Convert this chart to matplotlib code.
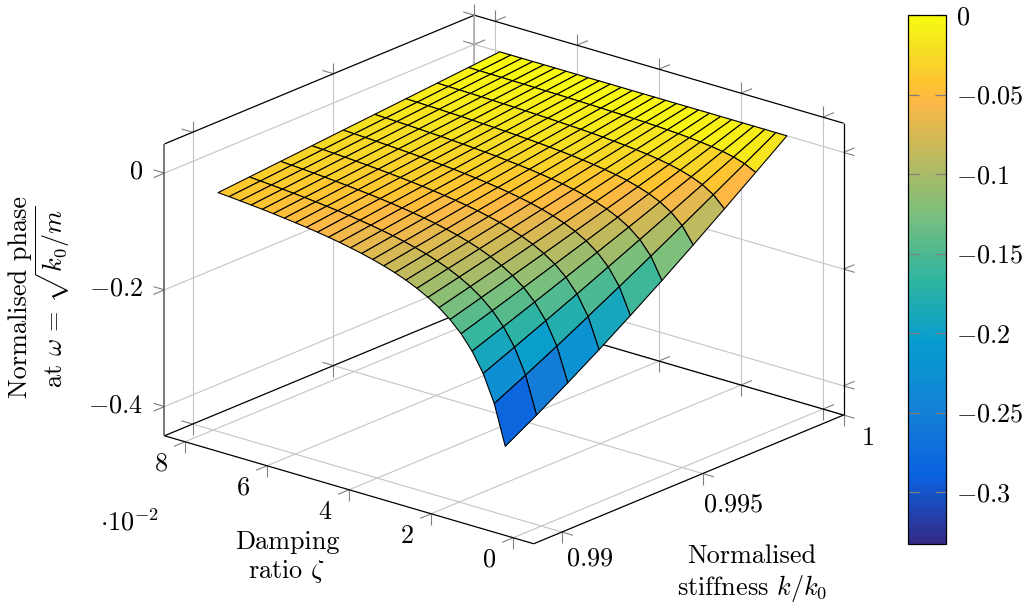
import numpy as np
import matplotlib
matplotlib.use("Agg")
import matplotlib.pyplot as plt
from matplotlib.colors import LinearSegmentedColormap, Normalize
from matplotlib.cm import ScalarMappable
from mpl_toolkits.mplot3d import proj3d

plt.rcParams["font.family"] = "cmr10"
plt.rcParams["mathtext.fontset"] = "cm"
plt.rcParams["axes.unicode_minus"] = False

# Grid of the surface
stiffness = [0.99, 0.99111, 0.99222, 0.99333, 0.99444, 0.99556, 0.99667, 0.99778, 0.99889, 1.0]
damping = [0.88, 1.149, 1.418, 1.688, 1.957, 2.226, 2.495, 2.764, 3.034, 3.303, 3.572, 3.841, 4.11, 4.38,
           4.649, 4.918, 5.187, 5.456, 5.726, 5.995, 6.264, 6.533, 6.802, 7.072, 7.341, 7.61, 7.88]

# one row per damping value, stiffness 0.99 -> 1
phase = [
    [-.3315, -.3003, -.2672, -.2326, -.1965, -.1590, -.1203, -.0807, -.0405, 0],
    [-.2636, -.2371, -.2098, -.1814, -.1525, -.1228, -.0926, -.0620, -.0311, 0],
    [-.2178, -.1951, -.1720, -.1484, -.1243, -.0999, -.0752, -.0502, -.0252, 0],
    [-.1851, -.1654, -.1455, -.1253, -.1048, -.0841, -.0633, -.0423, -.0211, 0],
    [-.1607, -.1436, -.1261, -.1084, -.0907, -.0727, -.0546, -.0365, -.0183, 0],
    [-.1420, -.1266, -.1112, -.0956, -.0798, -.0640, -.0481, -.0321, -.0160, 0],
    [-.1271, -.1133, -.0994, -.0854, -.0712, -.0571, -.0428, -.0286, -.0143, 0],
    [-.1150, -.1025, -.0899, -.0772, -.0644, -.0516, -.0387, -.0258, -.0129, 0],
    [-.1050, -.0935, -.0819, -.0703, -.0587, -.0470, -.0353, -.0236, -.0118, 0],
    [-.0965, -.0860, -.0753, -.0646, -.0539, -.0432, -.0324, -.0216, -.0108, 0],
    [-.0893, -.0795, -.0697, -.0598, -.0499, -.0400, -.0300, -.0200, -.0100, 0],
    [-.0832, -.0741, -.0649, -.0556, -.0464, -.0372, -.0279, -.0186, -.0093, 0],
    [-.0778, -.0692, -.0606, -.0520, -.0434, -.0347, -.0261, -.0174, -.0087, 0],
    [-.0731, -.0650, -.0569, -.0488, -.0407, -.0326, -.0245, -.0163, -.0082, 0],
    [-.0689, -.0613, -.0536, -.0460, -.0384, -.0307, -.0230, -.0154, -.0077, 0],
    [-.0651, -.0579, -.0507, -.0435, -.0363, -.0290, -.0218, -.0145, -.0073, 0],
    [-.0618, -.0550, -.0481, -.0413, -.0344, -.0275, -.0207, -.0138, -.0069, 0],
    [-.0587, -.0522, -.0457, -.0392, -.0327, -.0262, -.0196, -.0131, -.0065, 0],
    [-.0560, -.0498, -.0436, -.0374, -.0312, -.0249, -.0187, -.0125, -.0062, 0],
    [-.0535, -.0476, -.0417, -.0357, -.0298, -.0238, -.0179, -.0119, -.0060, 0],
    [-.0513, -.0456, -.0399, -.0342, -.0285, -.0228, -.0171, -.0114, -.0057, 0],
    [-.0491, -.0437, -.0383, -.0328, -.0273, -.0219, -.0164, -.0109, -.0055, 0],
    [-.0472, -.0420, -.0367, -.0315, -.0263, -.0210, -.0158, -.0105, -.0053, 0],
    [-.0454, -.0404, -.0353, -.0303, -.0252, -.0202, -.0151, -.0101, -.0050, 0],
    [-.0437, -.0389, -.0340, -.0292, -.0243, -.0194, -.0146, -.0097, -.0049, 0],
    [-.0421, -.0375, -.0328, -.0281, -.0234, -.0188, -.0141, -.0094, -.0047, 0],
    [-.0407, -.0362, -.0317, -.0272, -.0226, -.0181, -.0136, -.0091, -.0045, 0],
]

x_ticks = [0.99, 0.995, 1.0]
y_ticks = [0, 2, 4, 6, 8]
z_ticks = [-0.4, -0.2, 0]
x_labels = ["$0.99$", "$0.995$", "$1$"]
y_labels = ["$0$", "$2$", "$4$", "$6$", "$8$"]
z_labels = ["$-0.4$", "$-0.2$", "$0$"]
cbar_ticks = [0, -0.05, -0.1, -0.15, -0.2, -0.25, -0.3]
cbar_labels = ["$0$", "$-0.05$", "$-0.1$", "$-0.15$", "$-0.2$", "$-0.25$", "$-0.3$"]

x0, x1 = 0.989, 1.0
y0, y1 = -0.5, 8.5
z0, z1 = -0.45, 0.05
c0, c1 = -0.3327, 0.0

# parula, stops picked from the colour bar
parula = LinearSegmentedColormap.from_list("parula", [
    (0.0, "#352a87"), (0.127, "#0a62e0"), (0.25, "#1480d6"), (0.38, "#079ccf"),
    (0.5, "#2fb5a0"), (0.625, "#7bbf7c"), (0.75, "#c8b95a"), (0.84, "#feb845"),
    (0.875, "#fec530"), (0.93, "#f6dc24"), (1.0, "#f9fb0e")])
norm = Normalize(c0, c1)

W, H = 1028, 610
fig = plt.figure(figsize=(W / 100, H / 100), dpi=100)

# big square axes so nothing gets clipped, box centre goes to (504, 279.5) px
S = 1000
ax = fig.add_axes([(504 - 0.5135 * S) / W, (H - 279.5 - 0.5135 * S) / H, S / W, S / H],
                  projection="3d", computed_zorder=False)
ax.set_proj_type("ortho")
ax.view_init(elev=20.4, azim=220)
ax.set_box_aspect((1, 1, 0.646), zoom=0.7275)
ax.set_axis_off()

grid_c = "#c4c4c4"
tick_c = "#808080"
lw_grid = 0.8
lw_tick = 0.8
lw_box = 0.9
tx = 0.00039   # tick length along x
ty = 0.27      # along y
tz = 0.0188    # along z


def seg(p, q, color, lw, zorder=1):
    ax.plot([p[0], q[0]], [p[1], q[1]], [p[2], q[2]], color=color, lw=lw, zorder=zorder, solid_capstyle="butt")


# grid on the three back planes
for x in x_ticks:
    seg((x, y1, z0), (x, y1, z1), grid_c, lw_grid)
    seg((x, y0, z0), (x, y1, z0), grid_c, lw_grid)
for y in y_ticks:
    seg((x1, y, z0), (x1, y, z1), grid_c, lw_grid)
    seg((x0, y, z0), (x1, y, z0), grid_c, lw_grid)
for z in z_ticks:
    seg((x0, y1, z), (x1, y1, z), grid_c, lw_grid)
    seg((x1, y0, z), (x1, y1, z), grid_c, lw_grid)

# box lines
seg((x0, y1, z0), (x1, y1, z0), "black", lw_box, 2)
seg((x1, y0, z0), (x1, y1, z0), "black", lw_box, 2)
seg((x0, y0, z0), (x1, y0, z0), "black", lw_box, 2)
seg((x0, y0, z0), (x0, y1, z0), "black", lw_box, 2)
seg((x0, y1, z1), (x1, y1, z1), "black", lw_box, 2)
seg((x1, y0, z1), (x1, y1, z1), "black", lw_box, 2)
seg((x0, y1, z0), (x0, y1, z1), "#555555", 1.1, 2)
seg((x1, y0, z0), (x1, y0, z1), "black", lw_box, 2)
seg((x1, y1, z0), (x1, y1, z1), "#aaaaaa", 1.1, 2)

# little tick marks, they point out of the box
for x in x_ticks:
    seg((x, y0, z0), (x, y0 - ty, z0), tick_c, lw_tick)
    seg((x, y0, z0), (x, y0, z0 - tz), tick_c, lw_tick)
    seg((x, y1, z0), (x, y1 + ty, z0), tick_c, lw_tick)
    seg((x, y1, z0), (x, y1, z0 - tz), tick_c, lw_tick)
    seg((x, y1, z1), (x, y1 + ty, z1), tick_c, lw_tick)
    seg((x, y1, z1), (x, y1, z1 + tz), tick_c, lw_tick)
for y in y_ticks:
    seg((x0, y, z0), (x0 - tx, y, z0), tick_c, lw_tick)
    seg((x0, y, z0), (x0, y, z0 - tz), tick_c, lw_tick)
    seg((x1, y, z0), (x1 + tx, y, z0), tick_c, lw_tick)
    seg((x1, y, z0), (x1, y, z0 - tz), tick_c, lw_tick)
    seg((x1, y, z1), (x1 + tx, y, z1), tick_c, lw_tick)
    seg((x1, y, z1), (x1, y, z1 + tz), tick_c, lw_tick)
for z in z_ticks:
    seg((x0, y1, z), (x0 - tx, y1, z), tick_c, lw_tick)
    seg((x0, y1, z), (x0, y1 + ty, z), tick_c, lw_tick)
    seg((x1, y0, z), (x1 + tx, y0, z), tick_c, lw_tick)
    seg((x1, y0, z), (x1, y0 - ty, z), tick_c, lw_tick)
    seg((x1, y1, z), (x1 + tx, y1, z), tick_c, lw_tick)
    seg((x1, y1, z), (x1, y1 + ty, z), tick_c, lw_tick)

# surface
X, Y = np.meshgrid(stiffness, damping)
Z = np.array(phase)
ax.plot_surface(X, Y, Z, rstride=1, cstride=1, cmap=parula, norm=norm, shade=False,
                edgecolor="black", linewidth=0.8, zorder=5)

ax.set_xlim(x0, x1, view_margin=0)
ax.set_ylim(y0, y1, view_margin=0)
ax.set_zlim(z0, z1, view_margin=0)

FS = 18.9


def tick_text(x, y, z, label, dx, dy, ha="center"):
    # dx, dy in pixels from the tick on the box edge
    xp, yp, _ = proj3d.proj_transform(x, y, z, ax.get_proj())
    ax.annotate(label, (xp, yp), xytext=(dx, -dy), textcoords="offset pixels",
                ha=ha, va="center", fontsize=FS, annotation_clip=False)


for x, lab, off in zip(x_ticks, x_labels, [(28, 27), (30, 31), (24, 23)]):
    tick_text(x, y0, z0, lab, off[0], off[1])
for y, lab in zip(y_ticks, y_labels):
    tick_text(x0, y, z0, lab, -24, 22)
for z, lab in zip(z_ticks, z_labels):
    tick_text(x0, y1, z, lab, -21, -1, ha="right")

# axis labels
fig.text(130 / W, 1 - 522 / H, r"$\cdot 10^{-2}$", fontsize=FS, ha="center", va="center")
fig.text(287 / W, 1 - 558 / H, "Damping\nratio $\\zeta$", fontsize=FS, ha="center", va="center",
         multialignment="center", linespacing=1.2)
fig.text(752 / W, 1 - 574 / H, "Normalised\nstiffness $k/k_0$", fontsize=FS, ha="center", va="center",
         multialignment="center", linespacing=1.2)
fig.text(20.5 / W, 1 - 297 / H, "Normalised phase", fontsize=FS, rotation=90, ha="center", va="center")
fig.text(53 / W, 1 - 297 / H, "at $\\omega\\,=\\,\\sqrt{k_0/m}$", fontsize=FS, rotation=90, ha="center", va="center")

# colour bar
cax = fig.add_axes([908 / W, 1 - 544 / H, 38 / W, 529 / H])
cb = fig.colorbar(ScalarMappable(norm=norm, cmap=parula), cax=cax)
cb.set_ticks(cbar_ticks, labels=cbar_labels)
cb.ax.tick_params(axis="y", which="major", left=True, right=True, direction="in", length=8,
                  width=0.9, color=tick_c, labelsize=FS, pad=7)
cb.ax.minorticks_off()
cb.outline.set_edgecolor("black")
cb.outline.set_linewidth(0.9)

fig.savefig("out.png", dpi=100)
